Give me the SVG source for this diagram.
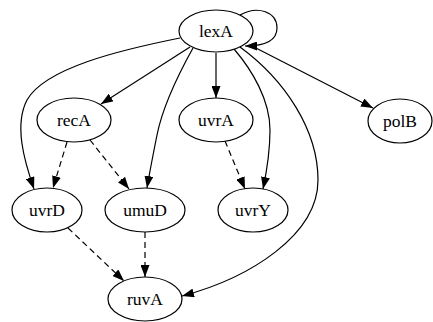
<svg xmlns="http://www.w3.org/2000/svg" width="433" height="322" viewBox="0 0 433 322">
<style>
.node ellipse{fill:#fff;stroke:#000;stroke-width:1.2}
.node text{font-family:'Liberation Serif','Times New Roman','DejaVu Serif',serif;font-size:17.5px;text-anchor:middle;fill:#000}
.edges path{fill:none;stroke:#000;stroke-width:1.2}
.edges .d{stroke-dasharray:6,4}
</style>
<defs>
<marker id="arr" viewBox="0 0 12 9" refX="12" refY="4.5" markerWidth="12" markerHeight="9" markerUnits="userSpaceOnUse" orient="auto">
<path d="M0,0 L12,4.5 L0,9 Z" fill="#000"/>
</marker>
</defs>
<rect width="433" height="322" fill="#fff"/>
<g class="edges">
<path d="M240,15 C258,5 277,12 277,28 C277,42 262,46 245,46" marker-end="url(#arr)"/>
<path d="M252,46 L373,108" marker-end="url(#arr)"/>
<path d="M190,47 L101,104" marker-end="url(#arr)"/>
<path d="M216,53 L216,98" marker-end="url(#arr)"/>
<path d="M180,38 C120,50 45,68 27,100 C14,125 24,160 34,189" marker-end="url(#arr)"/>
<path d="M193,48 C178,75 163,105 157,135 C153,155 150,170 147,188" marker-end="url(#arr)"/>
<path d="M234,49 C252,70 270,100 270,130 C270,152 267,170 263,189" marker-end="url(#arr)"/>
<path d="M240,47 C285,80 318,130 318,180 C318,235 250,278 182,296" marker-end="url(#arr)"/>
<path class="d" d="M67,142 L53,188" marker-end="url(#arr)"/>
<path class="d" d="M90,140 L129,189" marker-end="url(#arr)"/>
<path class="d" d="M225,141 L245,189" marker-end="url(#arr)"/>
<path class="d" d="M68,228 L124,281" marker-end="url(#arr)"/>
<path class="d" d="M145,232 L145,277" marker-end="url(#arr)"/>
</g>
<g font-family="Liberation Serif, Times New Roman, serif">
<g id="lexA" class="node"><ellipse cx="216" cy="31" rx="37" ry="21"/><text x="216" y="37">lexA</text></g>
<g id="recA" class="node"><ellipse cx="74" cy="120" rx="37" ry="22"/><text x="74" y="126">recA</text></g>
<g id="uvrA" class="node"><ellipse cx="216" cy="120" rx="37" ry="22"/><text x="216" y="126">uvrA</text></g>
<g id="polB" class="node"><ellipse cx="400" cy="121" rx="32" ry="22"/><text x="400" y="127">polB</text></g>
<g id="uvrD" class="node"><ellipse cx="47" cy="210" rx="35" ry="22"/><text x="47" y="216">uvrD</text></g>
<g id="umuD" class="node"><ellipse cx="145" cy="210" rx="40" ry="22"/><text x="145" y="216">umuD</text></g>
<g id="uvrY" class="node"><ellipse cx="253" cy="210" rx="35" ry="22"/><text x="253" y="216">uvrY</text></g>
<g id="ruvA" class="node"><ellipse cx="145" cy="299" rx="37" ry="22"/><text x="145" y="305">ruvA</text></g>
</g>
</svg>
